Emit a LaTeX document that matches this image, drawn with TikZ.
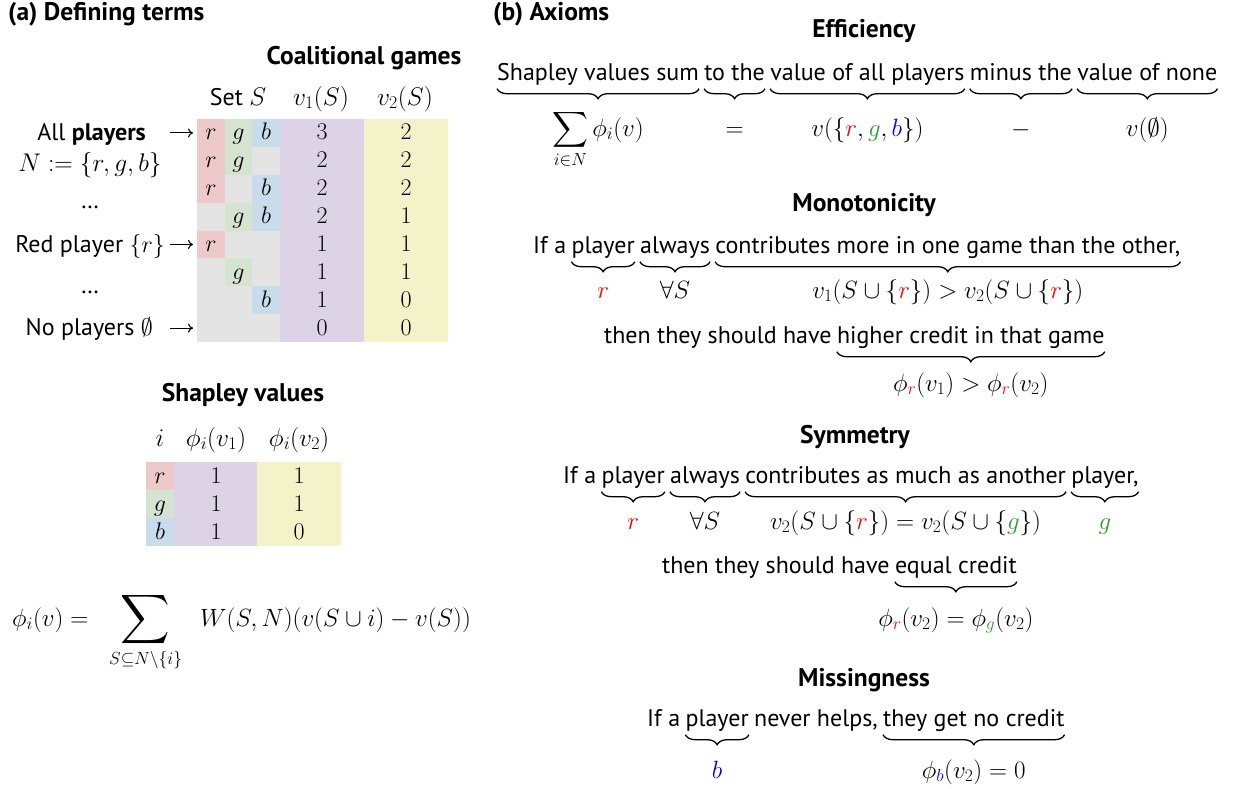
\RequirePackage{fix-cm}
\documentclass[tikz,border=0pt]{standalone}
\usepackage{exscale}
\usepackage[no-math]{fontspec}
\setmainfont{PT Sans}
\usetikzlibrary{positioning, decorations.pathreplacing, calc, arrows.meta}
\definecolor{cellred}{HTML}{EDC9C9}
\definecolor{cellgreen}{HTML}{D5E3D1}
\definecolor{cellblue}{HTML}{C9DCEC}
\definecolor{cellgrey}{HTML}{E4E4E4}
\definecolor{cellpurple}{HTML}{DCD4E6}
\definecolor{cellyellow}{HTML}{F4F2C8}
\definecolor{pred}{HTML}{FF0000}
\definecolor{pgreen}{HTML}{2E9A2E}
\definecolor{pblue}{HTML}{0000FF}
\newcommand{\pR}{{\color{pred}r}}
\newcommand{\pG}{{\color{pgreen}g}}
\newcommand{\pB}{{\color{pblue}b}}
\newcommand{\mfont}{\fontsize{24}{28}\selectfont}
\newcommand{\hfont}{\fontsize{25.5}{30}\selectfont}
\newcommand{\bigsum}{\mathop{\vcenter{\hbox{\scalebox{1.38}{$\displaystyle\sum$}}}}\limits}
\newcommand{\wordbrace}[1]{\draw[brc] ([yshift=-3pt]#1.south east) -- ([yshift=-3pt]#1.south west);}
\tikzset{
  txt/.style={inner sep=0pt, text depth=5.5pt, font=\fontsize{24}{28}\selectfont},
  hd/.style={inner sep=0pt, font=\fontsize{25.5}{30}\selectfont\bfseries},
  lbl/.style={inner sep=0pt, font=\fontsize{25}{29}\selectfont, anchor=base},
  cellnum/.style={inner sep=0pt, font=\mfont, anchor=base},
  colhead/.style={inner sep=0pt, font=\hfont, anchor=base},
  brc/.style={decorate, decoration={brace, amplitude=10pt}, line width=1.3pt},
  arr/.style={-{To[length=5pt, width=9pt]}, line width=1.1pt},
}
\begin{document}
\begin{tikzpicture}[x=1pt, y=-1pt]
  \useasboundingbox (0,0) rectangle (1233,788);

  % (a) defining terms
  \node[hd, anchor=west] (titleA) at (8,14) {(a) Defining terms};
  \node[hd] (coalT) at (364,58) {Coalitional games};
  \node[txt, anchor=base] (hset) at (238,105) {Set {\hfont$S$}};
  \node[colhead] (hva) at (321,105) {$v_1(S)$};
  \node[colhead] (hvb) at (405,105) {$v_2(S)$};

  \fill[cellgrey] (197,119) rectangle (280,342);
  \fill[cellpurple] (280,119) rectangle (364,342);
  \fill[cellyellow] (364,119) rectangle (448,342);
  \foreach \k/\r/\g/\b/\va/\vb in {1/1/1/1/3/2, 2/1/1/0/2/2, 3/1/0/1/2/2, 4/0/1/1/2/1,
                                 5/1/0/0/1/1, 6/0/1/0/1/1, 7/0/0/1/1/0, 8/0/0/0/0/0}{
    \pgfmathsetmacro{\yt}{119+(\k-1)*27.875}
    \pgfmathsetmacro{\ym}{\yt+13.94}
    \ifnum\r=1 \fill[cellred] (197,\yt) rectangle ++(28,27.875);
      \node[cellnum] (r\k) at (211,\ym+7) {$r$}; \fi
    \ifnum\g=1 \fill[cellgreen] (225,\yt) rectangle ++(27,27.875);
      \node[cellnum] (g\k) at (238.5,\ym+7) {$g$}; \fi
    \ifnum\b=1 \fill[cellblue] (252,\yt) rectangle ++(28,27.875);
      \node[cellnum] (b\k) at (266,\ym+7) {$b$}; \fi
    \node[cellnum] (va\k) at (322,\ym+7) {$\va$};
    \node[cellnum] (vb\k) at (406,\ym+7) {$\vb$};
    \coordinate (row\k) at (197,\ym);
  }

  \node[txt, anchor=base east] (allp) at (146,140) {All \textbf{players}};
  \node[colhead] (setN) at (90,171) {$N := \{r, g, b\}$};
  \node[txt, anchor=base] (dotsA) at (90,208) {\dots};
  \node[txt, anchor=base east] (redp) at (165,252) {Red player {\mfont$\{r\}$}};
  \node[txt, anchor=base] (dotsB) at (90,293) {\dots};
  \node[txt, anchor=base east] (nop) at (153,335) {No players {\mfont$\emptyset$}};
  \foreach \k in {1,5,8}
    \draw[arr] ([xshift=-27pt]row\k) -- ([xshift=-4pt]row\k);

  % shapley values
  \node[hd] (shapT) at (243,395) {Shapley values};
  \node[colhead] (hi) at (160,446) {$i$};
  \node[colhead] (hpa) at (216,446) {$\phi_i(v_1)$};
  \node[colhead] (hpb) at (299,446) {$\phi_i(v_2)$};
  \fill[cellpurple] (174,462) rectangle (257,546);
  \fill[cellyellow] (257,462) rectangle (341,546);
  \foreach \k/\p/\c/\va/\vb in {1/r/cellred/1/1, 2/g/cellgreen/1/1, 3/b/cellblue/1/0}{
    \pgfmathsetmacro{\yt}{462+(\k-1)*28}
    \fill[\c] (146,\yt) rectangle ++(28,28);
    \node[cellnum] (sp\k) at (160,\yt+21) {$\p$};
    \node[cellnum] (spa\k) at (216,\yt+21) {$\va$};
    \node[cellnum] (spb\k) at (299,\yt+21) {$\vb$};
  }
  \node[lbl, anchor=base west] (shapF) at (12,626)
    {$\displaystyle \phi_i(v) = \;\;\bigsum_{S\subseteq N\setminus\{i\}}\;\; W(S,N)(v(S\cup i)-v(S))$};

  % (b) axioms
  \node[hd, anchor=west] (titleB) at (493,14) {(b) Axioms};

  % efficiency
  \node[hd] (effT) at (864,31) {Efficiency};
  \node[txt, anchor=base west] (e1) at (497,80) {Shapley values sum};
  \node[txt, base right=5pt of e1] (e2) {to the};
  \node[txt, base right=5pt of e2] (e3) {value of all players};
  \node[txt, base right=5pt of e3] (e4) {minus the};
  \node[txt, base right=5pt of e4] (e5) {value of none};
  \foreach \n in {e1,e2,e3,e4,e5} {\wordbrace{\n}}
  \node[lbl] (le1) at ([yshift=-56pt]e1.base) {$\displaystyle\sum_{i\in N}\phi_i(v)$};
  \node[lbl] (le2) at ([yshift=-56pt]e2.base) {$=$};
  \node[lbl] (le3) at ([yshift=-56pt]e3.base) {$v(\{\pR, \pG, \pB\})$};
  \node[lbl] (le4) at ([yshift=-56pt]e4.base) {$-$};
  \node[lbl] (le5) at ([yshift=-56pt]e5.base) {$v(\emptyset)$};

  % monotonicity
  \node[hd] (monT) at (864,205) {Monotonicity};
  \node[txt, anchor=base west] (m0) at (533,253) {If a};
  \node[txt, base right=5pt of m0] (m1) {player};
  \node[txt, base right=5pt of m1] (m2) {always};
  \node[txt, base right=5pt of m2] (m3) {contributes more in one game than the other,};
  \foreach \n in {m1,m2,m3} {\wordbrace{\n}}
  \node[lbl] (lm1) at ([yshift=-45pt]m1.base) {$\pR$};
  \node[lbl] (lm2) at ([yshift=-45pt]m2.base) {$\forall S$};
  \node[lbl] (lm3) at ([yshift=-45pt]m3.base) {$v_1(S\cup\{\pR\}) > v_2(S\cup\{\pR\})$};
  \node[txt, anchor=base west] (n0) at (604,343) {then they should have};
  \node[txt, base right=5pt of n0] (n1) {higher credit in that game};
  \wordbrace{n1}
  \node[lbl] (ln1) at ([yshift=-48pt]n1.base) {$\phi_{\pR}(v_1) > \phi_{\pR}(v_2)$};

  % symmetry
  \node[hd] (symT) at (855,437) {Symmetry};
  \node[txt, anchor=base west] (s0) at (563,483) {If a};
  \node[txt, base right=5pt of s0] (s1) {player};
  \node[txt, base right=5pt of s1] (s2) {always};
  \node[txt, base right=5pt of s2] (s3) {contributes as much as another};
  \node[txt, base right=5pt of s3] (s4) {player,};
  \foreach \n in {s1,s2,s3,s4} {\wordbrace{\n}}
  \node[lbl] (ls1) at ([yshift=-46pt]s1.base) {$\pR$};
  \node[lbl] (ls2) at ([yshift=-46pt]s2.base) {$\forall S$};
  \node[lbl] (ls3) at ([yshift=-46pt]s3.base) {$v_2(S\cup\{\pR\}) = v_2(S\cup\{\pG\})$};
  \node[lbl] (ls4) at ([yshift=-46pt]s4.base) {$\pG$};
  \node[txt, anchor=base west] (t0) at (662,573) {then they should have};
  \node[txt, base right=5pt of t0] (t1) {equal credit};
  \wordbrace{t1}
  \node[lbl] (lt1) at ([yshift=-53pt]t1.base) {$\phi_{\pR}(v_2) = \phi_{\pG}(v_2)$};

  % missingness
  \node[hd] (misT) at (864,680) {Missingness};
  \node[txt, anchor=base west] (k0) at (647,726) {If a};
  \node[txt, base right=5pt of k0] (k1) {player};
  \node[txt, base right=5pt of k1] (k2) {never helps,};
  \node[txt, base right=5pt of k2] (k3) {they get no credit};
  \foreach \n in {k1,k3} {\wordbrace{\n}}
  \node[lbl] (lk1) at ([yshift=-52pt]k1.base) {$\pB$};
  \node[lbl] (lk3) at ([yshift=-52pt]k3.base) {$\phi_{\pB}(v_2) = 0$};
\end{tikzpicture}
\end{document}
